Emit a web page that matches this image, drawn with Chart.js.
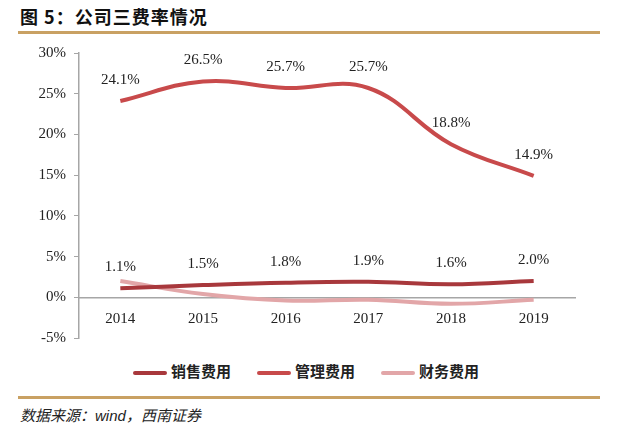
<!DOCTYPE html>
<html>
<head>
<meta charset="utf-8">
<script src="https://cdn.jsdelivr.net/npm/chart.js@4"></script>
<style>
  body { margin: 0; width: 640px; height: 432px; background: #fff; position: relative; overflow: hidden; }
  #title { position: absolute; left: 20px; top: 3px; font: bold 18px "Noto Sans CJK SC"; color: #111; letter-spacing: 1px; }
  .rule { position: absolute; left: 18px; width: 582px; height: 3px; background: #C9A163; }
  #chartBox { position: absolute; left: 0; top: 40px; width: 640px; height: 310px; }
  #legend { position: absolute; left: 133px; top: 361px; height: 20px; }
  .item { position: absolute; top: 0; white-space: nowrap; font: bold 15px "Noto Sans CJK SC"; color: #222; line-height: 20px; }
  .swatch { display: inline-block; width: 34px; height: 4px; vertical-align: middle; margin-right: 4px; border-radius: 2px; }
  #source { position: absolute; left: 20px; top: 404px; font: italic 15px "Noto Sans CJK SC"; color: #222; }
  #source b { font-family: "Liberation Sans"; font-weight: normal; }
</style>
</head>
<body>
<div id="title">图 5：公司三费率情况</div>
<div class="rule" style="top:31px"></div>
<div id="chartBox"><canvas id="rateChart"></canvas></div>
<div id="legend"></div>
<div class="rule" style="top:396px"></div>
<div id="source">数据来源：<b>wind</b>，西南证券</div>
<script>
// years on the x axis
const years = ['2014', '2015', '2016', '2017', '2018', '2019'];
// expense ratios in %
const salesRate = [1.1, 1.5, 1.8, 1.9, 1.6, 2.0];
const adminRate = [24.1, 26.5, 25.7, 25.7, 18.8, 14.9];
const financeRate = [2.0, 0.4, -0.4, -0.3, -0.8, -0.3];
const seriesNames = ['销售费用', '管理费用', '财务费用'];
const seriesColors = ['#A8383C', '#C84A4B', '#E2A6A8'];

// draw value labels above the points of the labelled lines
const valueLabels = {
    id: 'valueLabels',
    afterDatasetsDraw(chart) {
        const ctx = chart.ctx;
        ctx.save();
        ctx.font = '15px "Liberation Serif"';
        ctx.fillStyle = '#222';
        ctx.textAlign = 'center';
        ctx.textBaseline = 'middle';
        chart.data.datasets.forEach((ds, i) => {
            if (!ds.showValues) return;
            chart.getDatasetMeta(i).data.forEach((pt, j) => {
                ctx.fillText(ds.data[j].toFixed(1) + '%', pt.x, pt.y - 21);
            });
        });
        ctx.restore();
    }
};

const allData = [salesRate, adminRate, financeRate];

const chart = new Chart(document.getElementById('rateChart').getContext('2d'), {
    type: 'line',
    data: {
        labels: years,
        datasets: allData.map((d, i) => ({
            label: seriesNames[i],
            data: d,
            borderColor: seriesColors[i],
            backgroundColor: seriesColors[i],
            borderWidth: 4,
            pointRadius: 0,
            tension: 0.4,
            showValues: i < 2
        }))
    },
    options: {
        responsive: true,
        maintainAspectRatio: false,
        animation: false,
        layout: { padding: { left: 0, right: 65, top: 13, bottom: 12 } },
        plugins: {
            legend: { display: false },
            tooltip: { enabled: false }
        },
        scales: {
            x: {
                position: { y: 0 },
                offset: true,
                grid: { display: true, drawOnChartArea: false, drawTicks: false },
                border: { color: '#A6A6A6', width: 1.5 },
                ticks: { padding: 13, color: '#222', font: { family: 'Liberation Serif', size: 15 } }
            },
            y: {
                min: -5,
                max: 30,
                afterFit(scale) {
                    scale.width = 79;
                    // keep the plot area exactly at the layout padding
                    scale.paddingTop = 0;
                    scale.paddingBottom = 0;
                },
                grid: { drawOnChartArea: false, tickLength: 5, color: '#A6A6A6' },
                border: { color: '#A6A6A6', width: 1.5 },
                ticks: {
                    stepSize: 5,
                    padding: 8,
                    color: '#222',
                    font: { family: 'Liberation Serif', size: 15 },
                    callback: v => v + '%'
                }
            }
        }
    },
    plugins: [valueLabels]
});

// Build legend from chart datasets
const legend = document.getElementById('legend');
chart.data.datasets.forEach((ds, i) => {
    const item = document.createElement('span');
    item.className = 'item';
    item.style.left = (i * 124) + 'px';
    item.innerHTML = `<span class="swatch" style="background:${ds.borderColor}"></span>${ds.label}`;
    legend.appendChild(item);
});
</script>
</body>
</html>
